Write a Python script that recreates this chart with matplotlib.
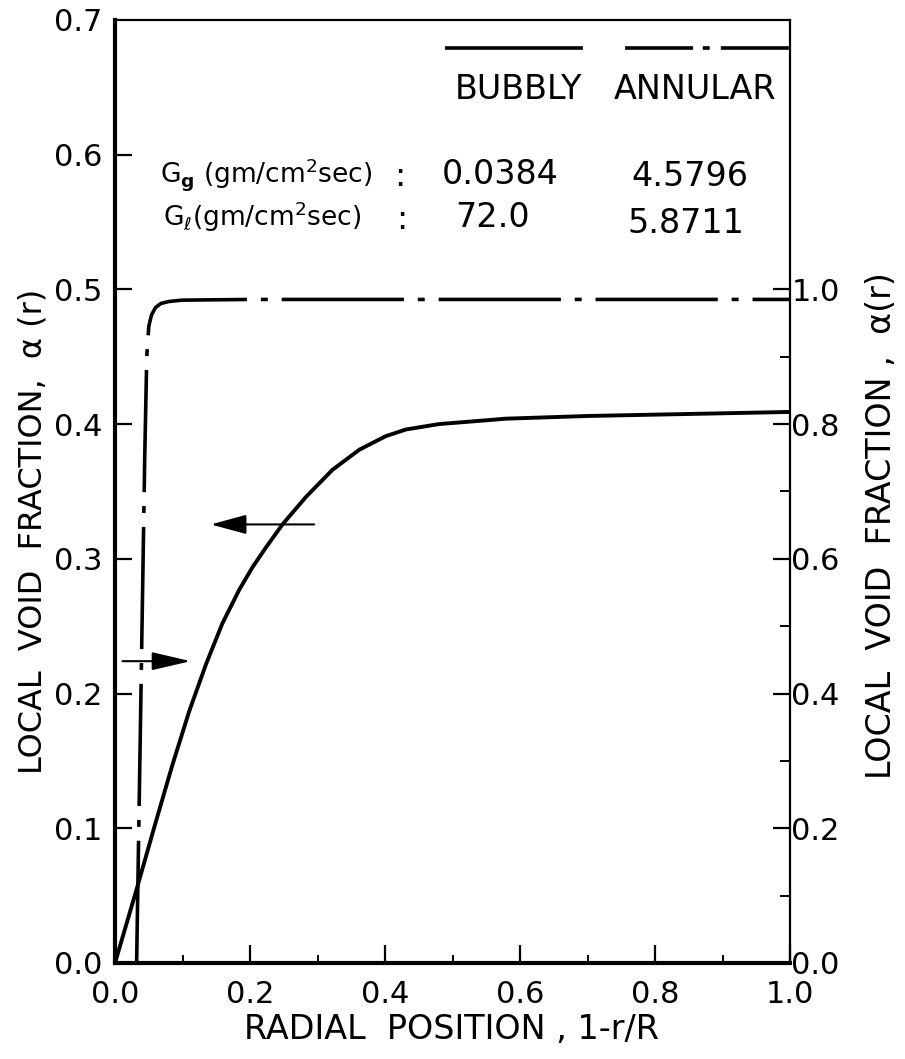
import matplotlib
matplotlib.use("Agg")
import matplotlib.pyplot as plt
from matplotlib.ticker import FixedLocator, FormatStrFormatter

plt.rcParams['font.family'] = ['DejaVu Sans']
plt.rcParams['mathtext.fontset'] = 'dejavusans'
plt.rcParams['lines.scale_dashes'] = False

# ---- data ----
bubbly_x = [0.0, 0.031, 0.060, 0.085, 0.110, 0.135, 0.159, 0.184, 0.204, 0.223,
            0.248, 0.283, 0.322, 0.362, 0.401, 0.431, 0.480, 0.530, 0.579, 0.70,
            0.80, 0.90, 1.0]
bubbly_alpha = [0.0, 0.053, 0.104, 0.147, 0.187, 0.222, 0.252, 0.277, 0.294, 0.308,
                0.3255, 0.346, 0.366, 0.381, 0.391, 0.396, 0.400, 0.402, 0.404, 0.406,
                0.407, 0.408, 0.409]

annular_x = [0.032, 0.036, 0.040, 0.044, 0.047, 0.050, 0.054, 0.060, 0.068, 0.080,
             0.10, 0.20, 0.50, 1.0]
annular_alpha = [0.0, 0.25, 0.50, 0.75, 0.90, 0.945, 0.962, 0.973, 0.979, 0.982,
                 0.984, 0.985, 0.985, 0.985]

left_ticks = [0.0, 0.1, 0.2, 0.3, 0.4, 0.5, 0.6, 0.7]
right_major = [0.0, 0.2, 0.4, 0.6, 0.8, 1.0]
right_minor = [0.1, 0.3, 0.5, 0.7, 0.9]
x_major = [0.0, 0.2, 0.4, 0.6, 0.8, 1.0]
x_minor = [0.1, 0.3, 0.5, 0.7, 0.9]

flow_labels = ["BUBBLY", "ANNULAR"]
Gg_values = ["0.0384", "4.5796"]
Gl_values = ["72.0", "5.8711"]

# ---- figure ----
fig = plt.figure(figsize=(9.05, 10.59), dpi=100)
ax = fig.add_axes([0.1271, 0.0907, 0.7459, 0.8905])
ax2 = ax.twinx()

ax.set_xlim(0, 1.0)
ax.set_ylim(0, 0.7)
ax2.set_ylim(0, 1.4)

# spines
for s, lw in [('left', 3.0), ('bottom', 3.0), ('right', 1.6), ('top', 1.6)]:
    ax.spines[s].set_linewidth(lw)
for s in ['left', 'bottom', 'right', 'top']:
    ax2.spines[s].set_visible(False)

# ticks
fs_tick = 22
ax.xaxis.set_major_locator(FixedLocator(x_major))
ax.xaxis.set_minor_locator(FixedLocator(x_minor))
ax.xaxis.set_major_formatter(FormatStrFormatter('%.1f'))
ax.yaxis.set_major_locator(FixedLocator(left_ticks))
ax.yaxis.set_major_formatter(FormatStrFormatter('%.1f'))
ax.tick_params(axis='x', which='major', direction='in', length=13, width=1.6,
               labelsize=fs_tick, pad=12, top=False)
ax.tick_params(axis='x', which='minor', direction='in', length=6, width=1.4, top=False)
ax.tick_params(axis='y', which='major', direction='in', length=12, width=1.6,
               labelsize=fs_tick, pad=9, right=False)
# the 0.7 tick lies on the top frame; hide its mark only
ax.yaxis.get_major_ticks()[-1].tick1line.set_visible(False)

ax2.yaxis.set_major_locator(FixedLocator(right_major))
ax2.yaxis.set_minor_locator(FixedLocator(right_minor))
ax2.yaxis.set_major_formatter(FormatStrFormatter('%.1f'))
ax2.tick_params(axis='y', which='major', direction='in', length=12, width=1.6,
                labelsize=fs_tick, pad=1)
ax2.tick_params(axis='y', which='minor', direction='in', length=7, width=1.4)

# curves
ax.plot(bubbly_x, bubbly_alpha, color='black', lw=2.8, solid_capstyle='butt',
        solid_joinstyle='round')
ax2.plot(annular_x, annular_alpha, color='black', lw=2.6,
         dashes=(88, 10, 5, 10), dash_capstyle='butt', dash_joinstyle='round')

# direction arrows
ax.annotate('', xy=(0.142, 0.3255), xytext=(0.295, 0.3255),
            arrowprops=dict(arrowstyle='-|>,head_length=1.1,head_width=0.3',
                            color='black', lw=1.5, mutation_scale=20,
                            shrinkA=0, shrinkB=0))
ax.annotate('', xy=(0.112, 0.224), xytext=(0.011, 0.224),
            arrowprops=dict(arrowstyle='-|>,head_length=1.2,head_width=0.28',
                            color='black', lw=1.5, mutation_scale=20,
                            shrinkA=0, shrinkB=0))

# legend-like key at top
ax.plot([0.489, 0.693], [0.970, 0.970], transform=ax.transAxes,
        color='black', lw=2.6, solid_capstyle='butt', clip_on=False)
ax.plot([0.756, 1.0], [0.970, 0.970], transform=ax.transAxes,
        color='black', lw=2.6, dashes=(49, 7, 5, 8), dash_capstyle='butt',
        clip_on=False)

fs_txt = 24
ax.text(0.597, 0.926, flow_labels[0], transform=ax.transAxes, ha='center',
        va='center', fontsize=fs_txt)
ax.text(0.859, 0.926, flow_labels[1], transform=ax.transAxes, ha='center',
        va='center', fontsize=fs_txt)

ax.text(0.0667, 0.836, r"G$_\mathbf{g}$ (gm/cm$^2$sec)", transform=ax.transAxes,
        ha='left', va='center', fontsize=19)
ax.text(0.071, 0.791, r"G$_\ell$(gm/cm$^2$sec)", transform=ax.transAxes,
        ha='left', va='center', fontsize=19)
ax.text(0.422, 0.834, ":", transform=ax.transAxes, ha='center', va='center',
        fontsize=fs_txt)
ax.text(0.425, 0.788, ":", transform=ax.transAxes, ha='center', va='center',
        fontsize=fs_txt)
ax.text(0.570, 0.836, Gg_values[0], transform=ax.transAxes, ha='center',
        va='center', fontsize=fs_txt)
ax.text(0.852, 0.834, Gg_values[1], transform=ax.transAxes, ha='center',
        va='center', fontsize=fs_txt)
ax.text(0.560, 0.791, Gl_values[0], transform=ax.transAxes, ha='center',
        va='center', fontsize=fs_txt)
ax.text(0.846, 0.784, Gl_values[1], transform=ax.transAxes, ha='center',
        va='center', fontsize=fs_txt)

# axis labels
ax.set_xlabel("RADIAL  POSITION , 1-r/R", fontsize=24)
ax.xaxis.label.set(va='center', ha='center')
ax.xaxis.set_label_coords(0.498, -0.0705)

ax.set_ylabel("LOCAL  VOID  FRACTION,  α (r)", fontsize=23)
ax.yaxis.label.set(va='center', ha='center', rotation_mode='anchor')
ax.yaxis.set_label_coords(-0.1215, 0.458)

ax2.set_ylabel("LOCAL  VOID  FRACTION ,  α(r)", fontsize=24, rotation=90)
ax2.yaxis.label.set(va='center', ha='center', rotation_mode='anchor')
ax2.yaxis.set_label_coords(1.135, 0.464)

fig.savefig("out.png", dpi=100)
